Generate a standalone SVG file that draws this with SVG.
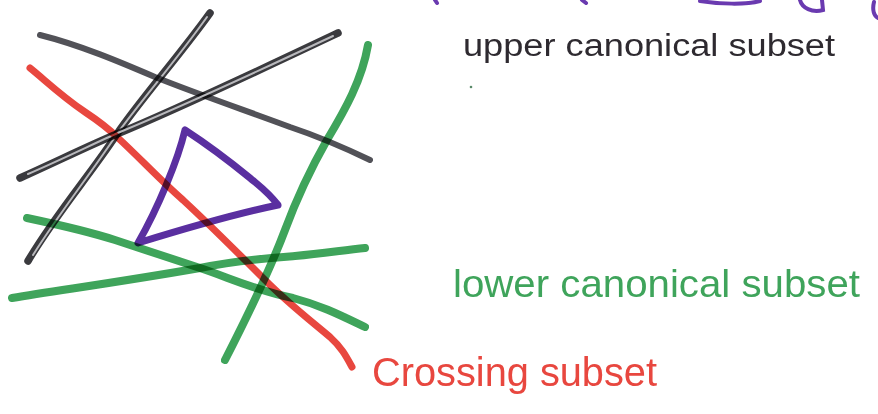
<svg xmlns="http://www.w3.org/2000/svg" width="878" height="414" viewBox="0 0 878 414">
<style>
.ln{fill:none;stroke-linecap:round;stroke-linejoin:round;mix-blend-mode:multiply}
.blk{stroke:#3a3a3e;stroke-width:7.5}
.blk2{stroke:#525258;stroke-width:6}
.hl{fill:none;stroke:#b8b8bc;stroke-width:2;stroke-linecap:round}
.grn{stroke:#3fa45b;stroke-width:8}
.red{stroke:#e8473f;stroke-width:7}
.pur{stroke:#5a2fa0;stroke-width:7}
.lbl{font-family:"Liberation Sans","DejaVu Sans",sans-serif}
</style>
<rect width="878" height="414" fill="#ffffff"/>
<g id="lines">
<path class="ln blk" d="M210,13 C180,55 140,100 117,134 C90,175 55,215 28,261"/>
<path class="hl" d="M207,17 C178,58 140,102 117,134 C92,172 60,212 33,255"/>
<path class="ln blk2" d="M40,35 C80,45 120,62 155,77 C200,95 250,112 290,127 C320,137 345,148 370,160"/>
<path class="ln blk" d="M20,178 C60,160 90,145 117,134 C180,108 260,70 338,33"/>
<path class="hl" d="M28,174 C65,158 95,143 120,132 C185,105 265,68 333,36"/>
</g>
<g id="triangle">
<path class="ln pur" d="M185,130 C178,160 158,208 138,243 C180,230 230,215 278,205 C268,192 262,188 250,178 C228,160 205,143 185,130 Z"/>
</g>
<g id="green">
<path class="ln grn" d="M368,45 C362,80 345,110 327,140 C310,170 298,195 285,230 C270,270 248,315 225,360"/>
<path class="ln grn" d="M27,218 C60,225 90,232 115,240 C145,250 170,258 200,268 C230,278 260,292 293,298 C320,305 340,315 365,327"/>
<path class="ln grn" d="M12,298 C60,290 120,282 200,268 C240,260 270,258 295,256 C325,253 345,250 365,248"/>
</g>
<g id="crossing">
<path class="ln red" d="M30,68 C45,80 60,95 85,112 C100,122 110,130 117,137 C140,158 160,180 183,200 C210,225 240,255 265,280 C290,305 310,320 330,337 C342,348 346,356 352,367"/>
</g>
<g id="top-fragments" fill="none" stroke="#6a3ab0" stroke-width="4" stroke-linecap="round">
<path d="M435,0 L437,3"/>
<path d="M582,0 L586,3"/>
<path d="M700,1 C720,4 745,5 760,1"/>
<path d="M800,0 C802,8 812,13 823,10 L822,0"/>
<path d="M874,2 C872,10 874,16 878,18"/>
</g>
<circle cx="471" cy="87" r="1.3" fill="#5a8a6a"/>
<text class="lbl" x="463" y="56" font-size="31" fill="#2e2a30" textLength="372" lengthAdjust="spacingAndGlyphs">upper canonical subset</text>
<text class="lbl" x="453" y="297" font-size="39" fill="#3fa45b" textLength="407" lengthAdjust="spacingAndGlyphs">lower canonical subset</text>
<text class="lbl" x="372" y="386" font-size="40" fill="#e8473f" textLength="285" lengthAdjust="spacingAndGlyphs">Crossing subset</text>
</svg>
